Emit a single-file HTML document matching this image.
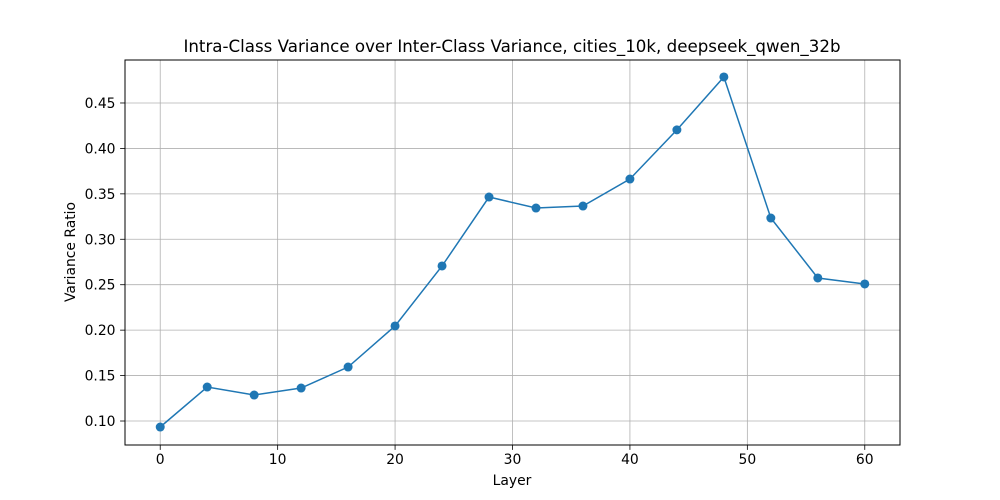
<!DOCTYPE html>
<html><head><meta charset="utf-8"><style>
html,body{margin:0;padding:0;background:#fff;}
svg{display:block;font-family:"DejaVu Sans","Liberation Sans",sans-serif;}
</style></head><body>
<svg id="chart" width="1000" height="500">
<rect width="1000" height="500" fill="#fff"/>
<g id="grid"></g>
<g id="ticks"></g>
<g id="series"></g>
<rect x="125" y="60" width="775" height="385" fill="none" stroke="#000" stroke-width="1"/>
<text x="512" y="52" text-anchor="middle" font-size="16.67">Intra-Class Variance over Inter-Class Variance, cities_10k, deepseek_qwen_32b</text>
<text x="512" y="485" text-anchor="middle" font-size="13.9">Layer</text>
<text x="75" y="252" text-anchor="middle" font-size="13.9" transform="rotate(-90 75 252)">Variance Ratio</text>
</svg>
<script>
const layers=[0,4,8,12,16,20,24,28,32,36,40,44,48,52,56,60];
const ratios=[0.0934,0.1374,0.1286,0.1363,0.1594,0.2046,0.2706,0.3465,0.3344,0.3366,0.3663,0.4204,0.4786,0.3234,0.2574,0.2508];
const xTicks=[0,10,20,30,40,50,60];
const yTicks=[0.10,0.15,0.20,0.25,0.30,0.35,0.40,0.45];
const X0=125,X1=900,Y0=60,Y1=445,xmin=-3,xmax=63,ymin=0.0736,ymax=0.4973;
const sx=v=>X0+(v-xmin)/(xmax-xmin)*(X1-X0);
const sy=v=>Y1-(v-ymin)/(ymax-ymin)*(Y1-Y0);
const NS="http://www.w3.org/2000/svg";
const mk=(p,t,a)=>{const e=document.createElementNS(NS,t);for(const k in a)e.setAttribute(k,a[k]);p.appendChild(e);return e;};
const grid=document.getElementById('grid'),ticks=document.getElementById('ticks'),ser=document.getElementById('series');
xTicks.forEach(t=>{const x=sx(t);
 const g=mk(grid,'line',{x1:x,x2:x,y1:Y0,y2:Y1,stroke:'#b0b0b0','stroke-width':0.8});
 
 
 mk(ticks,'line',{x1:x,x2:x,y1:Y1,y2:Y1+4.9,stroke:'#000','stroke-width':0.8});
 const l=mk(ticks,'text',{x:x,y:Y1+19,'text-anchor':'middle','font-size':13.9});l.textContent=t;
 
 
});
yTicks.forEach(t=>{const y=sy(t);
 const g=mk(grid,'line',{x1:X0,x2:X1,y1:y,y2:y,stroke:'#b0b0b0','stroke-width':0.8});
 
 
 mk(ticks,'line',{x1:X0-4.9,x2:X0,y1:y,y2:y,stroke:'#000','stroke-width':0.8});
 const l=mk(ticks,'text',{x:X0-9.5,y:y+5,'text-anchor':'end','font-size':13.9});l.textContent=t.toFixed(2);
 
 
});
const pl=mk(ser,'polyline',{points:layers.map((v,i)=>sx(v)+','+sy(ratios[i])).join(' '),fill:'none',stroke:'#1f77b4','stroke-width':1.5});


layers.forEach((v,i)=>{const c=mk(ser,'circle',{cx:sx(v),cy:sy(ratios[i]),r:4.5,fill:'#1f77b4'});
 
 
});
</script>
</body></html>
